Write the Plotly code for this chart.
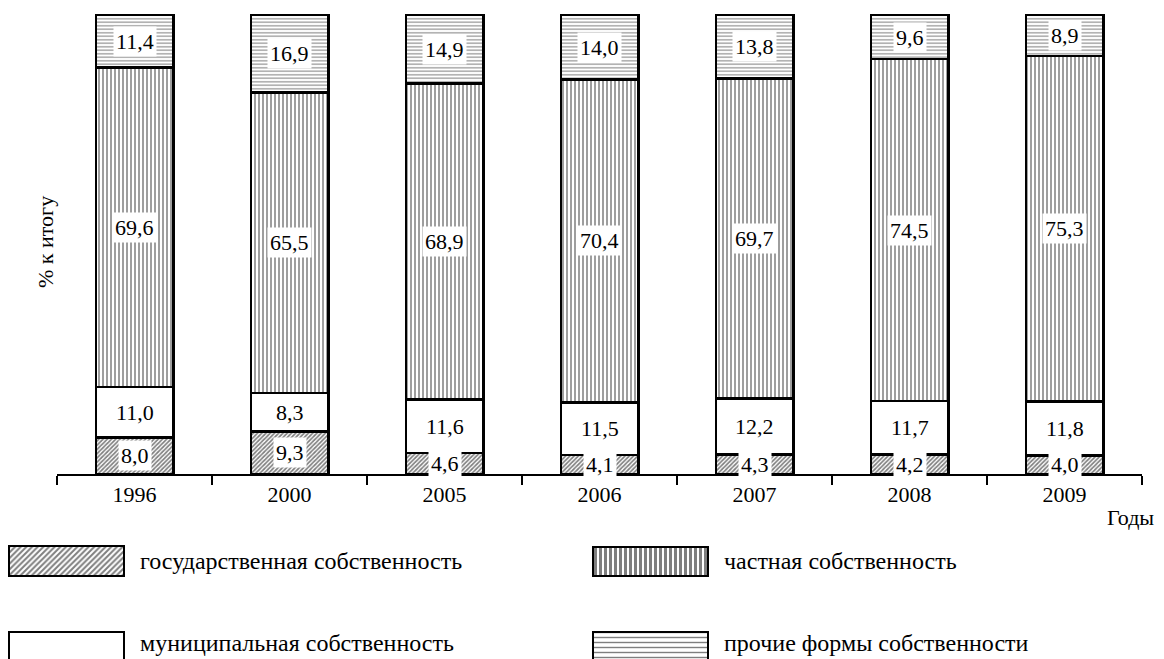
import plotly.graph_objects as go

# ---------------- data ----------------
years = ["1996", "2000", "2005", "2006", "2007", "2008", "2009"]
state = [8.0, 9.3, 4.6, 4.1, 4.3, 4.2, 4.0]
municipal = [11.0, 8.3, 11.6, 11.5, 12.2, 11.7, 11.8]
private = [69.6, 65.5, 68.9, 70.4, 69.7, 74.5, 75.3]
other = [11.4, 16.9, 14.9, 14.0, 13.8, 9.6, 8.9]
series_names = ["государственная собственность", "муниципальная собственность",
                "частная собственность", "прочие формы собственности"]
y_title = "% к итогу"
x_title = "Годы"

# ---------------- layout constants (pixels, page coords) ----------------
W, H = 1164, 659
OFF = 8  # page body offset
X0PX, X1PX = 57 - OFF, 1142 - OFF
Y0PX, Y100PX, YTOPPX = 474 - OFF, 15 - OFF, 10 - OFF
FONT = "Liberation Serif"
pxu = (Y0PX - Y100PX) / 100.0
ytop = (Y0PX - YTOPPX) / pxu

patterns = [
    dict(shape="/", fgcolor="black", bgcolor="white", size=3, solidity=0.55),
    None,
    dict(shape="|", fgcolor="black", bgcolor="white", size=4, solidity=0.38),
    dict(shape="-", fgcolor="black", bgcolor="white", size=3.5, solidity=0.3),
]
legend_patterns = [
    dict(shape="/", fgcolor="black", bgcolor="white", size=4, solidity=0.5),
    None,
    dict(shape="|", fgcolor="black", bgcolor="white", size=5, solidity=0.6),
    dict(shape="-", fgcolor="black", bgcolor="white", size=5, solidity=0.28),
]

fig = go.Figure()
series = [state, municipal, private, other]
for name, vals, pat in zip(series_names, series, patterns):
    marker = dict(color="white", line=dict(color="black", width=2.5))
    if pat:
        marker["pattern"] = pat
    fig.add_trace(go.Bar(x=years, y=vals, name=name, width=0.5, marker=marker,
                         xaxis="x", yaxis="y", showlegend=False, hoverinfo="skip"))

# value labels with white boxes (x given as category index)
annotations = []
for i, yr in enumerate(years):
    base = 0.0
    for vals in series:
        v = vals[i]
        annotations.append(dict(
            x=i, y=base + v / 2, xref="x", yref="y",
            text=f"{v:.1f}".replace(".", ","), showarrow=False,
            font=dict(family=FONT, size=22, color="black"),
            bgcolor="white", borderpad=2))
        base += v

# custom legend (swatches drawn as bars on an auxiliary pixel axis)
leg_items = [
    (0, 9, 124, 546, 576, 138, 561),
    (1, 9, 124, 632, 680, 138, 643),
    (2, 593, 708, 547, 576, 722, 561),
    (3, 593, 708, 632, 680, 722, 643),
]
for idx, xl, xr, yt, yb, tx, ty in leg_items:
    marker = dict(color="white", line=dict(color="black", width=2.5))
    if legend_patterns[idx]:
        marker["pattern"] = legend_patterns[idx]
    fig.add_trace(go.Bar(x=[(xl + xr) / 2 - OFF], y=[yb - yt], base=[yt - OFF],
                         width=[xr - xl], marker=marker, xaxis="x2", yaxis="y2",
                         showlegend=False, hoverinfo="skip"))
    annotations.append(dict(x=(tx - OFF) / W, y=1 - (ty - OFF) / H,
                            xref="paper", yref="paper",
                            xanchor="left", yanchor="middle", showarrow=False,
                            text=series_names[idx],
                            font=dict(family=FONT, size=24, color="black")))

annotations.append(dict(x=(45 - OFF) / W, y=1 - (242 - OFF) / H, xref="paper", yref="paper",
                        xanchor="center", yanchor="middle",
                        text=y_title, textangle=-90, showarrow=False,
                        font=dict(family=FONT, size=22, color="black")))
annotations.append(dict(x=(1156 - OFF) / W, y=1 - (517 - OFF) / H, xref="paper", yref="paper",
                        xanchor="right", yanchor="middle",
                        text=x_title, showarrow=False,
                        font=dict(family=FONT, size=22, color="black")))

fig.update_layout(
    width=W, height=H, margin=dict(l=0, r=0, t=0, b=0, autoexpand=False),
    paper_bgcolor="white", plot_bgcolor="white",
    barmode="stack",
    xaxis=dict(domain=[X0PX / W, X1PX / W], type="category", anchor="y",
               categoryorder="array", categoryarray=years,
               range=[-0.5, len(years) - 0.5], autorange=False, automargin=False,
               tickangle=0,
               tickson="boundaries", ticks="outside", ticklen=9, tickwidth=2,
               tickcolor="black", showline=True, linewidth=2, linecolor="black",
               showgrid=False, zeroline=False,
               tickfont=dict(family=FONT, size=22, color="black")),
    yaxis=dict(domain=[1 - Y0PX / H, 1 - YTOPPX / H], range=[0, ytop],
               autorange=False, visible=False, anchor="x"),
    xaxis2=dict(domain=[0, 1], range=[0, W], autorange=False, visible=False, anchor="y2"),
    yaxis2=dict(domain=[0, 1 - (520 - OFF) / H], range=[H, 520 - OFF], autorange=False,
                visible=False, anchor="x2"),
    annotations=annotations,
)

fig.write_html("out.html")
